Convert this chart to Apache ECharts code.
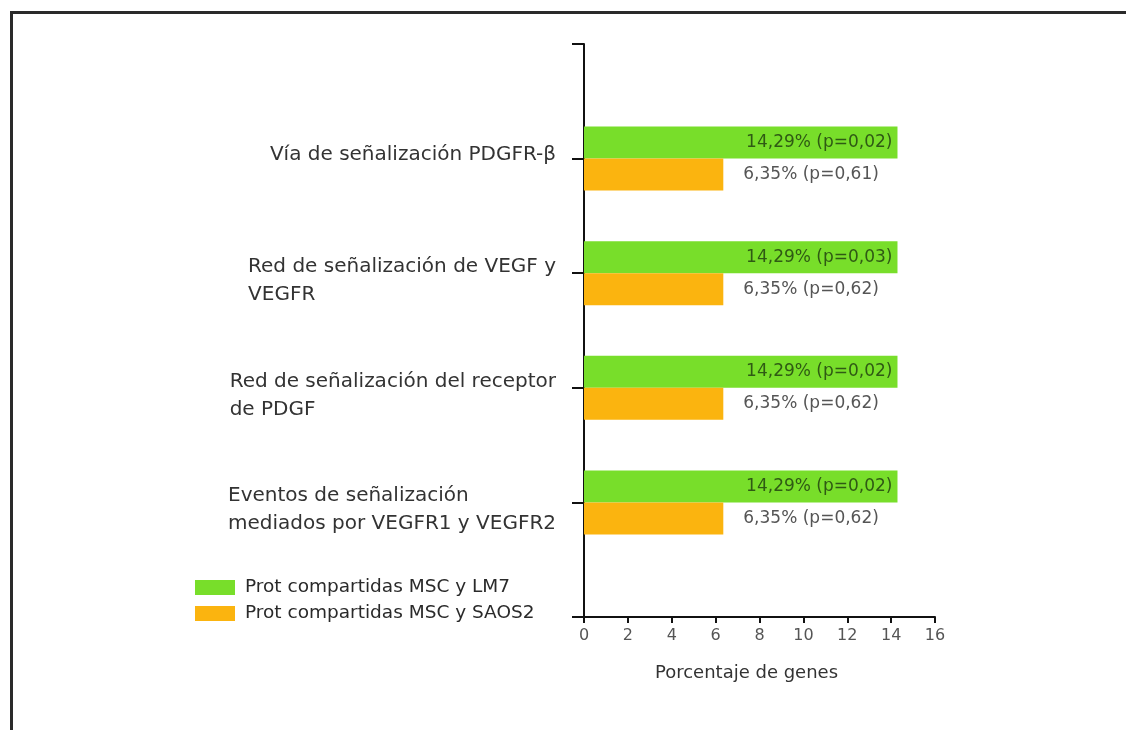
<!DOCTYPE html>
<html>
<head>
<meta charset="utf-8">
<script src="https://cdn.jsdelivr.net/npm/echarts@6/dist/echarts.min.js"></script>
<style>
html,body{margin:0;padding:0;background:#fff;}
#chart{width:1126px;height:730px;}
</style>
</head>
<body>
<div id="chart"></div>
<script>
var categories = [
  'Vía de señalización PDGFR-β',
  'Red de señalización de VEGF y\nVEGFR',
  'Red de señalización del receptor\nde PDGF',
  'Eventos de señalización\nmediados por VEGFR1 y VEGFR2'
];
var seriesNames = ['Prot compartidas MSC y LM7', 'Prot compartidas MSC y SAOS2'];
var lm7Values = [14.29, 14.29, 14.29, 14.29];
var lm7P = ['0,02', '0,03', '0,02', '0,02'];
var saos2Values = [6.35, 6.35, 6.35, 6.35];
var saos2P = ['0,61', '0,62', '0,62', '0,62'];
var xTicks = [0, 2, 4, 6, 8, 10, 12, 14, 16];
var xName = 'Porcentaje de genes';

var FONT = 'DejaVu Sans';
var axisCats = [''].concat(categories).concat(['']);
function pad(arr) { return [null].concat(arr).concat([null]); }
function fmt(v) { return v.toFixed(2).replace('.', ',') + '%'; }

var chart = echarts.init(document.getElementById('chart'));
chart.setOption({
  animation: false,
  backgroundColor: '#fff',
  color: ['#78DE2A', '#FBB40F'],
  grid: { left: 584, right: 191, top: 44, bottom: 113, containLabel: false },
  legend: {
    orient: 'vertical',
    left: 195, top: 578, padding: 0,
    itemWidth: 40, itemHeight: 15, itemGap: 7,
    icon: 'rect',
    data: seriesNames,
    textStyle: { fontFamily: FONT, fontSize: 18.5, color: '#2a2a2a', padding: [0, 0, 0, 5] }
  },
  xAxis: {
    type: 'value', min: xTicks[0], max: xTicks[xTicks.length - 1], interval: 2,
    axisLine: { show: true, lineStyle: { color: '#111', width: 2 } },
    axisTick: { show: true, length: 6, lineStyle: { color: '#111', width: 2 } },
    axisLabel: { fontFamily: FONT, fontSize: 16, color: '#555', margin: 11 },
    splitLine: { show: false },
    name: xName, nameLocation: 'middle', nameGap: 47,
    nameTextStyle: { fontFamily: FONT, fontSize: 18, color: '#333', padding: [0, 26, 0, 0] }
  },
  yAxis: {
    type: 'category', inverse: true, boundaryGap: false,
    data: axisCats,
    axisLine: { show: true, lineStyle: { color: '#111', width: 2 } },
    axisTick: { show: true, length: 12, lineStyle: { color: '#111', width: 2 } },
    axisLabel: {
      margin: 28, align: 'right',
      formatter: function (v) {
        if (!v) return '';
        var lines = v.split('\n').map(function (s) { return '{a|' + s + '}'; });
        if (lines.length > 1) return '{s| }\n' + lines.join('\n');
        return lines[0] + '\n{t| }';
      },
      rich: {
        a: { align: 'left', fontFamily: FONT, fontSize: 20, color: '#333', lineHeight: 28 },
        s: { fontSize: 1, lineHeight: 15 },
        t: { fontSize: 1, lineHeight: 8 }
      }
    },
    splitLine: { show: false }
  },
  series: [
    {
      name: seriesNames[0], type: 'bar', data: pad(lm7Values), barWidth: 32, barGap: '0%',
      label: {
        show: true, position: 'insideRight', distance: 5,
        fontFamily: FONT, fontSize: 17, color: '#2F5A14',
        formatter: function (p) { return fmt(p.value) + ' (p=' + lm7P[p.dataIndex - 1] + ')'; }
      }
    },
    {
      name: seriesNames[1], type: 'bar', data: pad(saos2Values), barWidth: 32, barGap: '0%',
      label: {
        show: true, position: 'right', distance: 20,
        fontFamily: FONT, fontSize: 17, color: '#555',
        formatter: function (p) { return fmt(p.value) + ' (p=' + saos2P[p.dataIndex - 1] + ')'; }
      }
    }
  ],
  graphic: [{
    type: 'polyline', silent: true,
    shape: { points: [[11.5, 730], [11.5, 12.5], [1126, 12.5]] },
    style: { stroke: '#2a2a2a', lineWidth: 3, fill: null }
  }]
});
</script>
</body>
</html>
